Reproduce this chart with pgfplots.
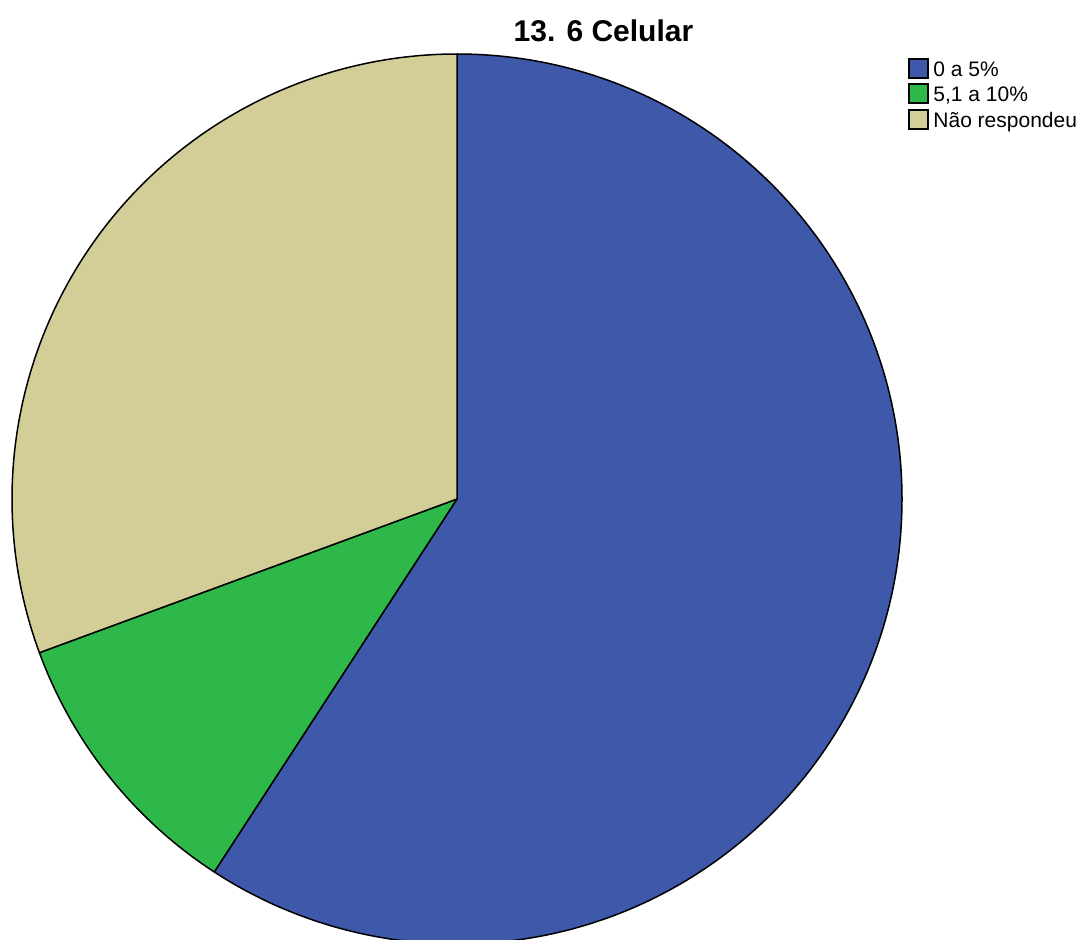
\documentclass[border=0pt]{standalone}
\usepackage{pgfplots}
\pgfplotsset{compat=1.18}
\usepackage{pgfplotstable}
\usepackage{fontspec}
\setmainfont{Liberation Sans}
\definecolor{cblue}{RGB}{62,88,170}
\definecolor{cgreen}{RGB}{46,184,74}
\definecolor{cbeige}{RGB}{211,206,152}
\pgfplotstableread{
idx value
0 29
1 5
2 15
}\piedata
\begin{document}
\begin{tikzpicture}
\pgfplotstablegetelem{0}{value}\of\piedata \pgfmathsetmacro{\va}{\pgfplotsretval}
\pgfplotstablegetelem{1}{value}\of\piedata \pgfmathsetmacro{\vb}{\pgfplotsretval}
\pgfplotstablegetelem{2}{value}\of\piedata \pgfmathsetmacro{\vc}{\pgfplotsretval}
\pgfmathsetmacro{\tot}{\va+\vb+\vc}
\pgfmathsetmacro{\aA}{90}
\pgfmathsetmacro{\aB}{90-360*\va/\tot}
\pgfmathsetmacro{\aC}{\aB-360*\vb/\tot}
\pgfmathsetmacro{\aD}{\aC-360*\vc/\tot}
\begin{axis}[
  scale only axis, width=540.5pt, height=469.5pt,
  xmin=0, xmax=1081, ymin=0, ymax=939,
  hide axis, clip=true, enlargelimits=false,
]
\filldraw[fill=cblue, draw=black, line width=0.75pt, line join=round]
  (axis cs:457,440) -- ++(\aA:222.5pt) arc[start angle=\aA, end angle=\aB, radius=222.5pt] -- cycle;
\filldraw[fill=cgreen, draw=black, line width=0.75pt, line join=round]
  (axis cs:457,440) -- ++(\aB:222.5pt) arc[start angle=\aB, end angle=\aC, radius=222.5pt] -- cycle;
\filldraw[fill=cbeige, draw=black, line width=0.75pt, line join=round]
  (axis cs:457,440) -- ++(\aC:222.5pt) arc[start angle=\aC, end angle=\aD, radius=222.5pt] -- cycle;
\node[font=\fontsize{15}{18}\selectfont\bfseries] at (axis cs:603.5,908.5) {13. 6 Celular};
\filldraw[fill=cblue, draw=black, line width=0.6pt] (axis cs:909,880) rectangle (axis cs:928,861);
\filldraw[fill=cgreen, draw=black, line width=0.6pt] (axis cs:909,855) rectangle (axis cs:928,836);
\filldraw[fill=cbeige, draw=black, line width=0.6pt] (axis cs:909,829) rectangle (axis cs:928,810);
\node[anchor=base west, inner sep=0pt, font=\fontsize{10.5}{12}\selectfont] at (axis cs:933,862) {0 a 5\%};
\node[anchor=base west, inner sep=0pt, font=\fontsize{10.5}{12}\selectfont] at (axis cs:933,837) {5,1 a 10\%};
\node[anchor=base west, inner sep=0pt, font=\fontsize{10.5}{12}\selectfont] at (axis cs:933,811) {Não respondeu};
\end{axis}
\pgfresetboundingbox
\path[use as bounding box] (current axis.south west) rectangle (current axis.north east);
\end{tikzpicture}
\end{document}
